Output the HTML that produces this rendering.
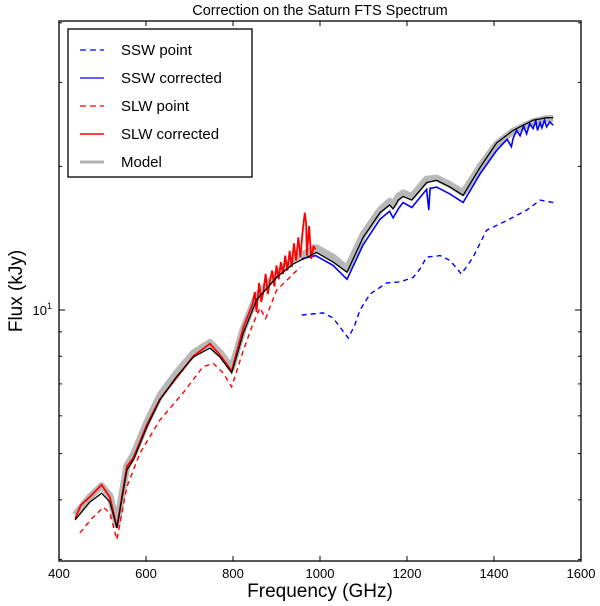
<!DOCTYPE html>
<html><head><meta charset="utf-8"><style>
body{margin:0;background:#fff;}
svg{display:block;font-family:"Liberation Sans","DejaVu Sans",sans-serif;}
</style></head><body>
<svg id="chart" width="600" height="606" viewBox="0 0 600 606">
<text x="320" y="15" text-anchor="middle" font-size="14.5">Correction on the Saturn FTS Spectrum</text>
<text x="320" y="597" text-anchor="middle" font-size="19">Frequency (GHz)</text>
<text transform="translate(22,291) rotate(-90)" text-anchor="middle" font-size="19">Flux (kJy)</text>
<g id="plot"></g>
<rect x="59" y="21" width="522" height="540" fill="none" stroke="#000" stroke-width="1.3"/>
<g id="axes"></g>
<g>
<rect x="68" y="29" width="184" height="148" fill="#fff" stroke="#000" stroke-width="1.3"/>
<g><line x1="80" y1="50" x2="104" y2="50" stroke="#0000ff" stroke-width="1.3" stroke-dasharray="6,4"/><text x="121" y="55" font-size="15">SSW point</text></g>
<g><line x1="80" y1="78" x2="104" y2="78" stroke="#0000ff" stroke-width="1.3"/><text x="121" y="83" font-size="15">SSW corrected</text></g>
<g><line x1="80" y1="106" x2="104" y2="106" stroke="#ff0000" stroke-width="1.3" stroke-dasharray="6,4"/><text x="121" y="111" font-size="15">SLW point</text></g>
<g><line x1="80" y1="134" x2="104" y2="134" stroke="#ff0000" stroke-width="1.5"/><text x="121" y="139" font-size="15">SLW corrected</text></g>
<g><line x1="80" y1="162" x2="104" y2="162" stroke="#b0b0b0" stroke-width="3"/><text x="121" y="167" font-size="15">Model</text></g>
</g>
</svg>
<script>
const modelFreq=[437,470,498,517,533,556,571,602,632,670,709,747,770,797,824,854,900,939,992,1030,1062,1099,1138,1160,1168,1180,1191,1211,1245,1268,1299,1329,1368,1406,1444,1490,1521,1536];
const modelFlux=[3.63,3.95,4.13,3.96,3.49,4.62,4.85,5.69,6.48,7.24,7.97,8.32,7.97,7.38,8.95,10.5,11.7,12.5,13.2,12.6,12.0,14.2,16.0,16.6,16.3,17.0,17.3,17.0,18.5,18.7,18.1,17.4,19.9,22.4,23.8,25.0,25.3,25.3];
const bandFlux=[3.72,4.05,4.28,4.08,3.55,4.72,4.97,5.82,6.62,7.38,8.12,8.55,8.15,7.55,9.15,10.7,11.9,12.8,13.5,12.9,12.2,14.4,16.2,16.9,16.6,17.3,17.6,17.3,18.8,18.9,18.3,17.6,20.0,22.3,23.7,24.8,25.2,25.2];
const sswFreq=[958,990,1030,1062,1099,1138,1160,1168,1180,1191,1211,1245,1250,1253,1256,1268,1299,1329,1368,1406,1420,1430,1440,1444,1452,1460,1468,1475,1482,1490,1496,1500,1506,1510,1516,1521,1528,1536];
const sswFlux=[12.8,13.0,12.4,11.6,13.7,15.5,16.1,15.6,16.3,16.8,16.4,17.9,16.2,18.0,18.0,18.1,17.5,16.8,19.3,21.6,22.3,22.8,22.0,22.9,23.8,23.2,24.3,23.4,24.6,24.0,24.9,23.8,24.7,24.1,25.0,24.2,24.8,24.4];
const sswPointFreq=[958,1007,1030,1050,1065,1080,1092,1115,1153,1184,1214,1230,1245,1276,1299,1325,1352,1383,1429,1475,1506,1536];
const sswPointFlux=[9.76,9.86,9.62,9.1,8.73,9.3,10.0,10.8,11.4,11.45,11.7,12.2,12.9,13.0,12.7,11.9,12.9,14.7,15.4,16.2,17.0,16.8];
const slwFreq=[437,450,470,498,517,533,556,571,602,632,670,709,747,770,797,824,845,850,854,860,865,870,875,880,885,890,895,900,905,910,915,920,925,930,935,940,945,950,955,960,965,968,970,975,980,985,990];
const slwFlux=[3.65,3.9,4.05,4.3,4.05,3.5,4.7,4.9,5.75,6.5,7.2,8.0,8.5,8.05,7.45,9.2,10.3,10.9,9.9,11.4,10.4,10.9,11.9,10.8,11.5,12.1,11.2,12.4,11.6,12.6,11.9,13.0,12.1,13.3,12.3,13.8,12.7,14.2,12.9,14.6,16.0,15.2,13.0,15.0,12.8,13.6,13.4];
const slwPointFreq=[448,475,502,517,533,556,586,632,685,731,754,777,797,824,845,862,875,900,930,954];
const slwPointFlux=[3.41,3.65,3.86,3.75,3.30,4.26,5.01,5.88,6.70,7.60,7.74,7.38,6.90,8.24,9.3,10.1,9.6,11.0,11.7,12.3];
const xTicks=[400,600,800,1000,1200,1400,1600];
const yMinor=[3,4,5,6,7,8,9,20,30,40];

const X0=59,X1=581,Y0=21,Y1=561;
function xs(f){return X0+(f-400)*(X1-X0)/1200;}
function ys(v){return 310-477*Math.log10(v/10);}
const NS='http://www.w3.org/2000/svg';
function mk(tag,attrs,parent){const e=document.createElementNS(NS,tag);for(const k in attrs)e.setAttribute(k,attrs[k]);parent.appendChild(e);return e;}
function pts(fx,fy){return fx.map((f,i)=>xs(f).toFixed(1)+','+ys(fy[i]).toFixed(1)).join(' ');}
const plot=document.getElementById('plot');
const axes=document.getElementById('axes');

let g=mk('polyline',{points:pts(modelFreq,bandFlux),fill:'none',stroke:'#b8b8b8','stroke-width':7,'stroke-linejoin':'round'},plot);


let s1=mk('polyline',{points:pts(slwPointFreq,slwPointFlux),fill:'none',stroke:'#ff0000','stroke-width':1.4,'stroke-dasharray':'5,4'},plot);


let s2=mk('polyline',{points:pts(sswPointFreq,sswPointFlux),fill:'none',stroke:'#0000ff','stroke-width':1.4,'stroke-dasharray':'5,4'},plot);


let s3=mk('polyline',{points:pts(sswFreq,sswFlux),fill:'none',stroke:'#0000ff','stroke-width':1.6},plot);


let s4=mk('polyline',{points:pts(slwFreq,slwFlux),fill:'none',stroke:'#ff0000','stroke-width':1.8},plot);


let m=mk('polyline',{points:pts(modelFreq,modelFlux),fill:'none',stroke:'#000','stroke-width':1.3},plot);



xTicks.forEach(t=>{
  const x=xs(t);
  const l1=mk('line',{x1:x,y1:Y1,x2:x,y2:Y1-5,stroke:'#000'},axes);
  
  
  const l2=mk('line',{x1:x,y1:Y0,x2:x,y2:Y0+5,stroke:'#000'},axes);
  
  
  const tx=mk('text',{x:x,y:Y1+17,'text-anchor':'middle','font-size':13},axes);
  tx.textContent=t;
  
  
});
yMinor.forEach(v=>{
  const y=ys(v);
  if(y<Y0||y>Y1)return;
  const a=mk('line',{x1:X0,y1:y,x2:X0+3,y2:y,stroke:'#000'},axes);
  
  
  const b=mk('line',{x1:X1,y1:y,x2:X1-3,y2:y,stroke:'#000'},axes);
  
  
});
const ym=ys(10);
const ma=mk('line',{x1:X0,y1:ym,x2:X0+6,y2:ym,stroke:'#000'},axes);


const mb=mk('line',{x1:X1,y1:ym,x2:X1-6,y2:ym,stroke:'#000'},axes);


const yl=mk('text',{x:X0-7,y:ym+5,'text-anchor':'end','font-size':13},axes);
yl.innerHTML='10<tspan dy="-6" font-size="9">1</tspan>';


</script>
</body></html>
